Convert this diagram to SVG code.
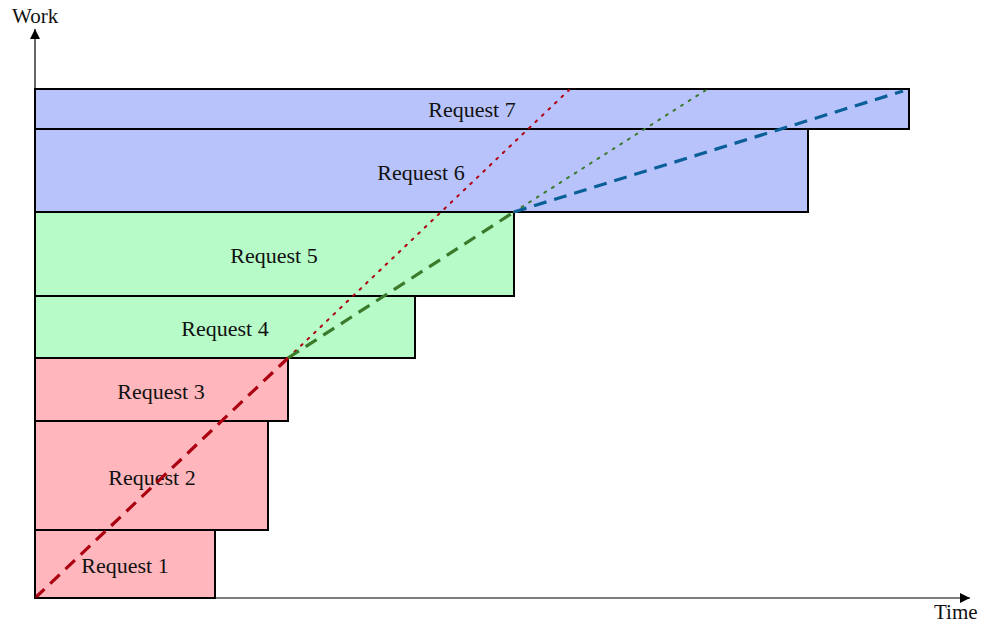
<svg xmlns="http://www.w3.org/2000/svg" width="984" height="625" viewBox="0 0 984 625">
  <style>
    .lbl { font-family: "Liberation Serif", "Times New Roman", serif; font-size: 22px; fill: #111; }
    .ax { font-size: 21px; }
    .box { stroke: #000; stroke-width: 2; }
    .red { fill: #ffb6bc; }
    .green { fill: #b6fbc8; }
    .blue { fill: #b8c3fb; }
    .axis { stroke: #000; stroke-width: 1.2; fill: none; }
    .dash { fill: none; stroke-width: 3.2; stroke-dasharray: 13 8; }
    .dot { fill: none; stroke-width: 2; stroke-dasharray: 2 7; stroke-linecap: round; }
  </style>
  <defs>
    <marker id="arrow" viewBox="0 0 10 10" refX="10" refY="5" markerWidth="10" markerHeight="10" markerUnits="userSpaceOnUse" orient="auto">
      <path d="M0,0 L10,5 L0,10 z" fill="#000"/>
    </marker>
  </defs>
  <rect width="984" height="625" fill="#fff"/>

  <g id="request-1"><rect class="box red" x="35" y="530" width="180" height="68"/><text class="lbl" x="125" y="573" text-anchor="middle">Request 1</text></g>
  <g id="request-2"><rect class="box red" x="35" y="421" width="233" height="109"/><text class="lbl" x="152" y="485" text-anchor="middle">Request 2</text></g>
  <g id="request-3"><rect class="box red" x="35" y="358" width="253" height="63"/><text class="lbl" x="161" y="399" text-anchor="middle">Request 3</text></g>
  <g id="request-4"><rect class="box green" x="35" y="296" width="380" height="62"/><text class="lbl" x="225" y="336" text-anchor="middle">Request 4</text></g>
  <g id="request-5"><rect class="box green" x="35" y="212" width="479" height="84"/><text class="lbl" x="274" y="263" text-anchor="middle">Request 5</text></g>
  <g id="request-6"><rect class="box blue" x="35" y="129" width="773" height="83"/><text class="lbl" x="421" y="180" text-anchor="middle">Request 6</text></g>
  <g id="request-7"><rect class="box blue" x="35" y="89" width="874" height="40"/><text class="lbl" x="472" y="117" text-anchor="middle">Request 7</text></g>

  <g id="connectors">
    <line class="dot" x1="288" y1="358" x2="569" y2="90" stroke="#b00010"/>
    <line class="dot" x1="514" y1="212" x2="706" y2="90" stroke="#3a7a2a"/>
    <line class="dash" x1="35" y1="598" x2="288" y2="358" stroke="#aa0010"/>
    <line class="dash" x1="288" y1="358" x2="514" y2="212" stroke="#3a7a2a"/>
    <line class="dash" x1="514" y1="212" x2="903" y2="91" stroke="#0b5f98"/>
  </g>

  <g id="axes">
    <line class="axis" x1="35" y1="598" x2="35" y2="29" marker-end="url(#arrow)"/>
    <line class="axis" x1="35" y1="598" x2="970" y2="598" marker-end="url(#arrow)"/>
    <text class="lbl ax" x="12" y="23">Work</text>
    <text class="lbl ax" x="934" y="619">Time</text>
  </g>
</svg>
